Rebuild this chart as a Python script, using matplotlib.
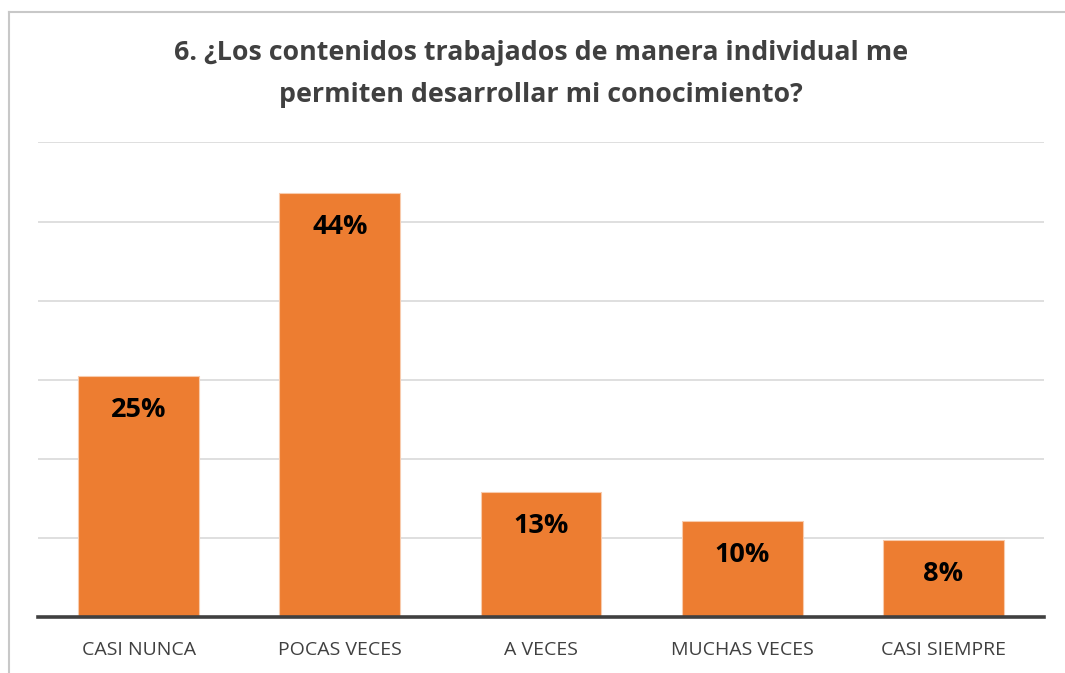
import matplotlib
matplotlib.use("Agg")
import matplotlib.pyplot as plt
from matplotlib.lines import Line2D
import numpy as np

categories = ["CASI NUNCA", "POCAS VECES", "A VECES", "MUCHAS VECES", "CASI SIEMPRE"]
values = [25, 44, 13, 10, 8]
labels = ["25%", "44%", "13%", "10%", "8%"]
title = "6. ¿Los contenidos trabajados de manera individual me\npermiten desarrollar mi conocimiento?"

W, H = 1065, 673
fig = plt.figure(figsize=(W / 100, H / 100), dpi=100)
fig.patch.set_facecolor("white")

# axes position in pixels
left, right, bottom, top = 38, 1044, 617, 142.5
ax = fig.add_axes([left / W, 1 - bottom / H, (right - left) / W, (bottom - top) / H])

step = 8.2
ymax = step * 6
x = np.arange(len(categories))
ax.bar(x, values, width=0.6, color="#ED7D31", edgecolor="#F8CBAD", linewidth=0.8, zorder=3)
ax.set_xlim(-0.5, len(categories) - 0.5)
ax.set_ylim(0, ymax)
ax.set_yticks(np.arange(0, ymax + 0.01, step))
ax.yaxis.grid(True, color="#D9D9D9", linewidth=1.2, zorder=0)
ax.tick_params(axis="y", left=False, labelleft=False)
ax.set_xticks(x)
ax.set_xticklabels(categories, fontfamily="Open Sans", fontsize=14, color="#404040")
ax.tick_params(axis="x", length=0, pad=17)
for s in ["left", "right", "top"]:
    ax.spines[s].set_visible(False)
ax.spines["bottom"].set_color("#404040")
ax.spines["bottom"].set_linewidth(2.6)
ax.spines["bottom"].set_zorder(4)

for xi, v, lab in zip(x, values, labels):
    ax.annotate(lab, (xi, v), xytext=(0, -34), textcoords="offset pixels",
                ha="center", va="center", fontsize=19.5, fontweight="bold",
                fontfamily="Open Sans", color="black", zorder=5)

fig.text(541 / W, 1 - 74 / H, title, ha="center", va="center", fontsize=19.3,
         fontweight="bold", fontfamily="Open Sans", color="#404040", linespacing=1.78)

# chart border (left and top)
fig.add_artist(Line2D([9 / W, 9 / W], [0, 1 - 12 / H], color="#C8C8C8", linewidth=1.5,
                      transform=fig.transFigure))
fig.add_artist(Line2D([9 / W, 1], [1 - 12 / H, 1 - 12 / H], color="#C8C8C8", linewidth=1.5,
                      transform=fig.transFigure))

fig.savefig("out.png", dpi=100, facecolor="white")
